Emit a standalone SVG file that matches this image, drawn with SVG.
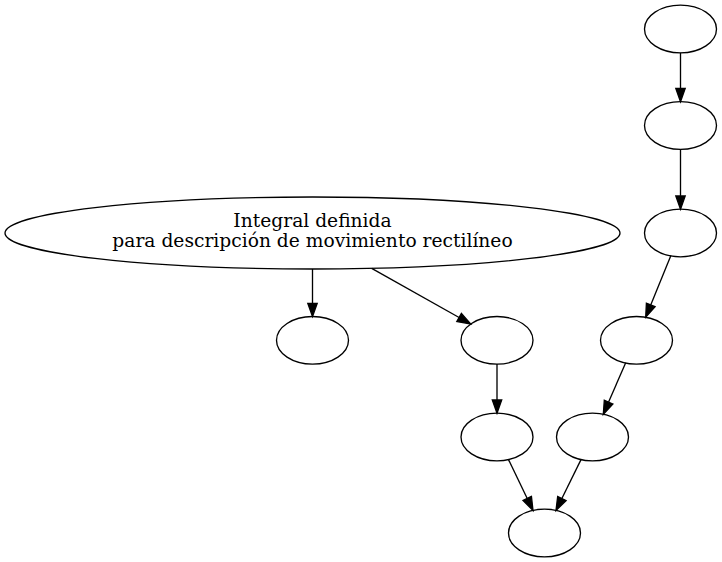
<svg xmlns="http://www.w3.org/2000/svg" width="722" height="562" viewBox="0 0 722 562">
<style>
.n ellipse{fill:none;stroke:#000;stroke-width:1.33}
.e line{stroke:#000;stroke-width:1.33}
.e polygon{fill:#000;stroke:#000;stroke-width:1.33}
text{font-family:"DejaVu Serif",serif;font-size:18.67px;fill:#000;text-anchor:middle}
</style>
<rect width="722" height="562" fill="#fff"/>
<g id="n_main" class="n"><ellipse cx="312.5" cy="233" rx="307.5" ry="36"/>
<text x="312.5" y="227">Integral definida</text>
<text x="312.5" y="247">para descripción de movimiento rectilíneo</text></g>
<g id="n1" class="n"><ellipse cx="680.5" cy="29" rx="36" ry="23.8"/></g>
<g id="n2" class="n"><ellipse cx="680.5" cy="125.5" rx="36" ry="23.8"/></g>
<g id="n3" class="n"><ellipse cx="680.5" cy="233" rx="36" ry="23.8"/></g>
<g id="n4" class="n"><ellipse cx="636.5" cy="340.3" rx="36" ry="23.8"/></g>
<g id="n5" class="n"><ellipse cx="592.5" cy="437" rx="36" ry="23.8"/></g>
<g id="n6" class="n"><ellipse cx="312.5" cy="340.3" rx="36" ry="23.8"/></g>
<g id="n7" class="n"><ellipse cx="497" cy="340.3" rx="36" ry="23.8"/></g>
<g id="n8" class="n"><ellipse cx="497" cy="437" rx="36" ry="23.8"/></g>
<g id="n9" class="n"><ellipse cx="544.5" cy="533" rx="36" ry="23.8"/></g>
<g id="edges" class="e">
<line x1="680.5" y1="52.8" x2="680.5" y2="88.4"/><polygon points="675.8,88.4 685.2,88.4 680.5,101.7"/>
<line x1="680.5" y1="149.3" x2="680.5" y2="195.9"/><polygon points="675.8,195.9 685.2,195.9 680.5,209.2"/>
<line x1="670.7" y1="255.9" x2="650.72" y2="304.88"/><polygon points="655.04,306.64 646.40,303.12 645.7,317.2"/>
<line x1="625.7" y1="362.7" x2="608.6" y2="402.1"/><polygon points="612.9,404.0 604.3,400.2 603.3,414.3"/>
<line x1="581" y1="459.6" x2="561.87" y2="498.52"/><polygon points="566.06,500.58 557.68,496.46 556,510.45"/>
<line x1="508.5" y1="459.6" x2="527.23" y2="498.47"/><polygon points="531.44,496.44 523.02,500.5 533,510.45"/>
<line x1="497" y1="364.1" x2="497" y2="399.9"/><polygon points="492.3,399.9 501.7,399.9 497,413.2"/>
<line x1="312.5" y1="269" x2="312.5" y2="303.3"/><polygon points="307.8,303.3 317.2,303.3 312.5,316.6"/>
<line x1="371.7" y1="268.3" x2="459.1" y2="317.5"/><polygon points="456.8,321.6 461.4,313.4 470.7,324"/>
</g>
</svg>
